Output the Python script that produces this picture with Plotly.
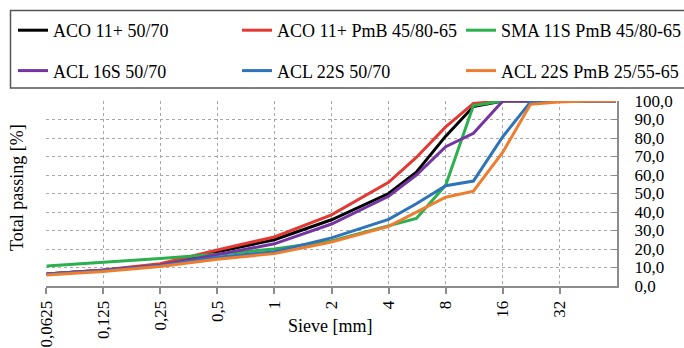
import plotly.graph_objects as go

sieve = [0.063, 0.125, 0.25, 0.5, 1, 2, 4, 5.6, 8, 11.2, 16, 22.4, 31.5, 45, 63]

aco11_5070 = [6.5, 8.5, 11.5, 18.5, 25.0, 35.8, 50.0, 61.5, 81.0, 97.0, 100, 100, 100, 100, 100]
aco11_pmb = [6.5, 8.7, 12.0, 19.5, 26.5, 38.5, 56.0, 69.5, 86.0, 98.7, 100, 100, 100, 100, 100]
sma11s_pmb = [10.8, 12.7, 14.8, 17.2, 20.0, 24.4, 32.3, 36.5, 54.5, 97.5, 100, 100, 100, 100, 100]
acl16s_5070 = [6.5, 8.5, 11.2, 17.2, 22.8, 33.5, 48.5, 60.0, 75.3, 82.5, 100, 100, 100, 100, 100]
acl22s_5070 = [6.3, 8.3, 11.0, 15.5, 18.5, 26.0, 36.0, 44.5, 54.2, 56.7, 80.7, 99.5, 100, 100, 100]
acl22s_pmb = [6.0, 7.9, 10.6, 14.5, 17.5, 23.8, 32.2, 40.0, 48.0, 51.3, 72.3, 98.2, 99.5, 100, 100]

series_names = ["ACO 11+ 50/70", "ACO 11+ PmB 45/80-65", "SMA 11S PmB 45/80-65",
                "ACL 16S 50/70", "ACL 22S 50/70", "ACL 22S PmB 25/55-65"]
series_values = [aco11_5070, aco11_pmb, sma11s_pmb, acl16s_5070, acl22s_5070, acl22s_pmb]
colors = ["#000000", "#e23a33", "#2bb04e", "#7434a2", "#2f73b8", "#ee7d30"]
legend_column = ["legend", "legend2", "legend3", "legend", "legend2", "legend3"]

x_tickvals = [0.0625, 0.125, 0.25, 0.5, 1, 2, 4, 8, 16, 32]
x_ticktext = ["0,0625", "0,125", "0,25", "0,5", "1", "2", "4", "8", "16", "32"]
y_tickvals = [0, 10, 20, 30, 40, 50, 60, 70, 80, 90, 100]
y_ticktext = ["0,0", "10,0", "20,0", "30,0", "40,0", "50,0", "60,0", "70,0", "80,0", "90,0", "100,0"]

FONT = "Liberation Serif"
W, H = 684, 348
L, R, T, B = 46, 617, 101, 286


def px(x):
    return (x - L) / (R - L)


def py(y):
    return (B - y) / (B - T)


fig = go.Figure()
for i, (name, vals, col) in enumerate(zip(series_names, series_values, colors)):
    fig.add_trace(go.Scatter(
        x=sieve, y=vals, name=name, mode="lines",
        line=dict(color=col, width=3),
        legend=legend_column[i], legendgroup=f"g{i}",
    ))

legend_common = dict(
    orientation="v", xanchor="left", yanchor="top",
    font=dict(family=FONT, size=18, color="black"),
    bgcolor="rgba(0,0,0,0)", borderwidth=0,
    itemwidth=30, tracegroupgap=14, y=py(12),
)

fig.update_layout(
    width=W, height=H,
    margin=dict(l=L, r=W - R, t=T, b=H - B, pad=0, autoexpand=False),
    paper_bgcolor="white", plot_bgcolor="white",
    font=dict(family=FONT, size=17, color="black"),
    showlegend=True,
    legend=dict(x=px(13), **legend_common),
    legend2=dict(x=px(237), **legend_common),
    legend3=dict(x=px(461), **legend_common),
    xaxis=dict(
        type="log",
        range=[-1.2041199827, 1.8061799740],
        tickvals=x_tickvals, ticktext=x_ticktext, tickangle=-90,
        showgrid=True, gridcolor="#a8a8a8", griddash="dot", gridwidth=1,
        showline=True, linecolor="#8c8c8c", linewidth=2,
        ticks="outside", ticklen=6, tickcolor="#8c8c8c", tickwidth=2,
        tickfont=dict(family=FONT, size=17, color="black"),
        zeroline=False, automargin=False,
    ),
    yaxis=dict(
        side="right", range=[0, 100],
        tickvals=y_tickvals, ticktext=y_ticktext,
        showgrid=True, gridcolor="#a8a8a8", griddash="dot", gridwidth=1,
        showline=True, linecolor="#8c8c8c", linewidth=2,
        ticks="inside", ticklen=5, tickcolor="#8c8c8c", tickwidth=1,
        ticklabelstandoff=12,
        tickfont=dict(family=FONT, size=17, color="black"),
        zeroline=False, automargin=False,
    ),
    shapes=[dict(
        type="rect", xref="paper", yref="paper", layer="above",
        x0=px(10.5), x1=px(690), y0=py(88), y1=py(10.5),
        line=dict(color="#555555", width=1.5), fillcolor="rgba(0,0,0,0)",
    )],
    annotations=[
        dict(text="Total passing [%]", xref="paper", yref="paper",
             x=px(17), y=py(188), textangle=-90, showarrow=False,
             font=dict(family=FONT, size=18, color="black"),
             xanchor="center", yanchor="middle"),
        dict(text="Sieve [mm]", xref="paper", yref="paper",
             x=px(330), y=py(326), showarrow=False,
             font=dict(family=FONT, size=18, color="black"),
             xanchor="center", yanchor="middle"),
    ],
)

fig.write_html(
    "out.html",
    config={"displayModeBar": False},
    post_script="document.body.style.margin='0';document.body.style.overflow='hidden';",
)
